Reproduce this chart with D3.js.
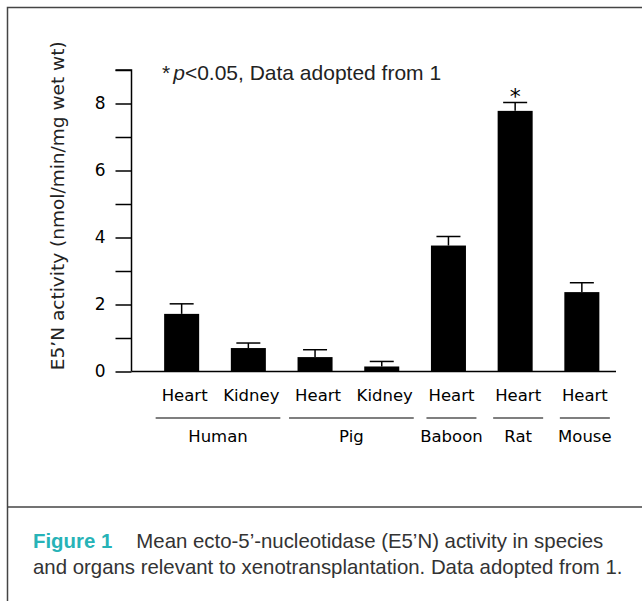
<!DOCTYPE html>
<html>
<head>
<meta charset="utf-8">
<script src="https://cdn.jsdelivr.net/npm/d3@7"></script>
<style>
  body { margin: 0; background: #fff; }
  svg { display: block; }
</style>
</head>
<body>
<div id="chart"></div>
<script>
// data
var organs = ["Heart", "Kidney", "Heart", "Kidney", "Heart", "Heart", "Heart"];
var species = ["Human", "Human", "Pig", "Pig", "Baboon", "Rat", "Mouse"];
var means = [1.72, 0.70, 0.43, 0.15, 3.76, 7.78, 2.37];
var errors = [0.30, 0.15, 0.22, 0.15, 0.27, 0.25, 0.28];
var significant = [false, false, false, false, false, true, false];
var yTicks = [0, 1, 2, 3, 4, 5, 6, 7, 8, 9];

var svgWidth = 642;
var svgHeight = 601;

var tickFont = "'DejaVu Sans', Verdana, sans-serif";
var textFont = "'Liberation Sans', Arial, sans-serif";

var svg = d3.select("#chart")
  .append("svg")
  .attr("width", svgWidth)
  .attr("height", svgHeight);

// frame of the figure box (runs off the right and bottom edge)
svg.append("rect")
  .attr("x", 7.5)
  .attr("y", 7.5)
  .attr("width", 700)
  .attr("height", 700)
  .attr("fill", "none")
  .attr("stroke", "#444")
  .attr("stroke-width", 1.5);

svg.append("line")
  .attr("x1", 7).attr("x2", svgWidth)
  .attr("y1", 507).attr("y2", 507)
  .attr("stroke", "#444")
  .attr("stroke-width", 1.5);

var rows = means.map(function(m, i) {
  return { i: i, organ: organs[i], species: species[i], mean: m, err: errors[i], sig: significant[i] };
});

// scales
var axisX = 131.5;
var baseY = 371.5;

var x = d3.scaleBand()
  .domain(d3.range(rows.length))
  .range([148.3, 615.2])
  .paddingInner(0.475)
  .paddingOuter(0.2375);

var y = d3.scaleLinear()
  .domain([0, 9])
  .range([baseY, 70]);

var chart = svg.append("g");

// y axis
var leftAxis = d3.axisLeft(y)
  .tickValues(yTicks)
  .tickSize(16)
  .tickPadding(10)
  .tickFormat(function(d) { return d % 2 === 0 ? d : ""; });

var yAxisG = chart.append("g")
  .attr("transform", "translate(" + axisX + ",0)")
  .call(leftAxis);

yAxisG.select(".domain")
  .attr("d", "M" + (-16) + "," + y(9) + "H0V" + baseY);
yAxisG.selectAll("line").attr("stroke", "#000").attr("stroke-width", 1.5);
yAxisG.select(".domain").attr("stroke", "#000").attr("stroke-width", 1.5);
yAxisG.selectAll("text")
  .attr("font-family", tickFont)
  .attr("font-size", 17)
  .attr("fill", "#000");

// x baseline
chart.append("line")
  .attr("x1", axisX).attr("x2", 616)
  .attr("y1", baseY).attr("y2", baseY)
  .attr("stroke", "#000")
  .attr("stroke-width", 1.5);

// bars
chart.selectAll(".bar")
  .data(rows)
  .enter()
  .append("rect")
  .attr("class", "bar")
  .attr("x", function(d) { return x(d.i); })
  .attr("y", function(d) { return y(d.mean); })
  .attr("width", x.bandwidth())
  .attr("height", function(d) { return baseY - y(d.mean); })
  .attr("fill", "#000");

// error bars, upper half only
var capHalf = 12;
var errG = chart.selectAll(".err")
  .data(rows)
  .enter()
  .append("g")
  .attr("class", "err")
  .attr("stroke", "#000")
  .attr("stroke-width", 1.5);

errG.append("line")
  .attr("x1", function(d) { return x(d.i) + x.bandwidth() / 2; })
  .attr("x2", function(d) { return x(d.i) + x.bandwidth() / 2; })
  .attr("y1", function(d) { return y(d.mean); })
  .attr("y2", function(d) { return y(d.mean + d.err); });

errG.append("line")
  .attr("x1", function(d) { return x(d.i) + x.bandwidth() / 2 - capHalf; })
  .attr("x2", function(d) { return x(d.i) + x.bandwidth() / 2 + capHalf; })
  .attr("y1", function(d) { return y(d.mean + d.err); })
  .attr("y2", function(d) { return y(d.mean + d.err); });

// significance star
chart.selectAll(".star")
  .data(rows.filter(function(d) { return d.sig; }))
  .enter()
  .append("text")
  .attr("x", function(d) { return x(d.i) + x.bandwidth() / 2; })
  .attr("y", function(d) { return y(d.mean + d.err) + 2; })
  .attr("text-anchor", "middle")
  .attr("font-family", tickFont)
  .attr("font-size", 22)
  .text("*");

// organ labels
chart.selectAll(".organ")
  .data(rows)
  .enter()
  .append("text")
  .attr("class", "organ")
  .attr("x", function(d) { return x(d.i) + x.bandwidth() / 2 + 3; })
  .attr("y", 401)
  .attr("text-anchor", "middle")
  .attr("font-family", tickFont)
  .attr("font-size", 16.5)
  .text(function(d) { return d.organ; });

// species groups: underline + name
var groups = [];
rows.forEach(function(d) {
  var g = groups[groups.length - 1];
  if (g && g.name === d.species) g.last = d.i;
  else groups.push({ name: d.species, first: d.i, last: d.i });
});

function groupCenter(g) {
  return (x(g.first) + x(g.last)) / 2 + x.bandwidth() / 2 + 3;
}
function groupHalf(g) {
  return g.first === g.last ? 25 : (x(g.last) - x(g.first)) / 2 + 29;
}

chart.selectAll(".gline")
  .data(groups)
  .enter()
  .append("line")
  .attr("x1", function(g) { return groupCenter(g) - groupHalf(g); })
  .attr("x2", function(g) { return groupCenter(g) + groupHalf(g); })
  .attr("y1", 418).attr("y2", 418)
  .attr("stroke", "#000")
  .attr("stroke-width", 1.2);

chart.selectAll(".gname")
  .data(groups)
  .enter()
  .append("text")
  .attr("x", groupCenter)
  .attr("y", 442)
  .attr("text-anchor", "middle")
  .attr("font-family", tickFont)
  .attr("font-size", 16.5)
  .text(function(g) { return g.name; });

// y axis title
chart.append("text")
  .attr("transform", "translate(64," + ((y(9) + baseY) / 2 - 15) + ") rotate(-90)")
  .attr("text-anchor", "middle")
  .attr("font-family", tickFont)
  .attr("font-size", 18.5)
  .attr("fill", "#222")
  .text("E5\u2019N activity (nmol/min/mg wet wt)");

// note
var note = chart.append("text")
  .attr("x", 162)
  .attr("y", 80)
  .attr("font-family", textFont)
  .attr("font-size", 21)
  .attr("fill", "#222");
note.append("tspan").text("*");
note.append("tspan").attr("dx", 3).attr("font-style", "italic").text("p");
note.append("tspan").text("<0.05, Data adopted from 1");

// caption
var cap1 = svg.append("text")
  .attr("x", 33)
  .attr("y", 548)
  .attr("font-family", textFont)
  .attr("font-size", 20.4)
  .attr("fill", "#333");
cap1.append("tspan")
  .attr("font-weight", "bold")
  .attr("fill", "#27b3b7")
  .text("Figure 1");
cap1.append("tspan")
  .attr("dx", 24)
  .text("Mean ecto-5\u2019-nucleotidase (E5\u2019N) activity in species");

svg.append("text")
  .attr("x", 33)
  .attr("y", 574)
  .attr("font-family", textFont)
  .attr("font-size", 20.4)
  .attr("fill", "#333")
  .text("and organs relevant to xenotransplantation. Data adopted from 1.");
</script>
</body>
</html>
